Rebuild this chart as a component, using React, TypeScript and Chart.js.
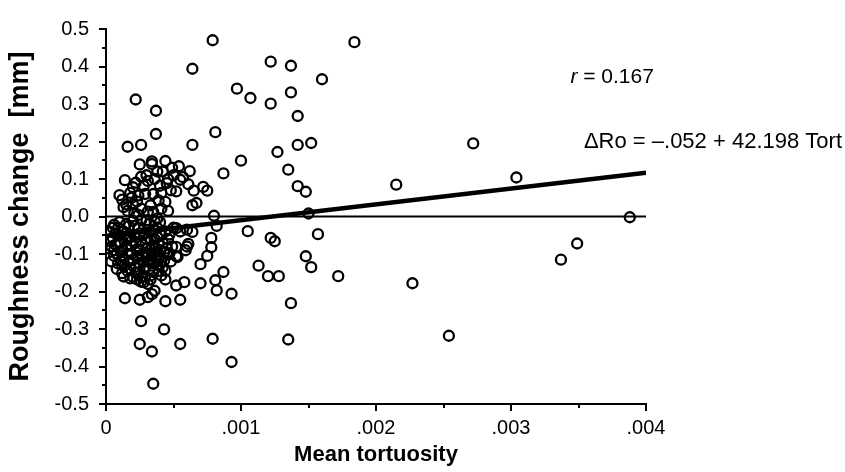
import React, { useEffect, useRef } from "react";
import { Chart, registerables } from "chart.js";

Chart.register(...registerables);

// Mean tortuosity (x) and roughness change in mm (y)
const tortuosity: number[] = [
  0.00079, 0.00184, 0.00122, 0.00137, 0.00064, 0.0016, 0.00097, 0.00107, 0.00137, 0.00122,
  0.00022, 0.00037, 0.00142, 0.00037, 0.00081, 0.00016, 0.00026, 0.00064, 0.00142, 0.00152,
  0.00272, 0.001, 0.00127, 0.00135, 0.00087, 0.00142, 0.00148, 0.00215, 0.00304,
  0.00014, 0.0001, 0.00026, 0.00025, 0.00034, 0.00034, 0.00044, 0.00042, 0.00049, 0.00054,
  0.00062, 0.00055, 0.00052, 0.00061, 0.00065, 0.00072, 0.00075, 0.00064, 0.00067, 0.0004,
  0.00045, 0.00041, 0.00035, 0.00028, 0.0002, 0.00018, 0.00024, 0.00015, 0.0002, 0.00033,
  0.00039, 0.00044, 0.00031, 0.00041, 0.00026, 0.00013, 0.0015,
  0.00012, 0.00016, 0.00019, 0.00022, 0.00023, 0.00029, 0.0003, 0.00031, 0.00036, 0.00038,
  0.00046, 0.00048, 0.0005, 0.00057, 0.00035, 0.00046, 0.00021,
  0.00024, 0.00038, 0.0008, 0.00388, 0.00082, 0.00105, 0.00122, 0.00125, 0.00157, 0.00349,
  0.00337, 0.00148, 0.00152, 0.00113, 0.0012, 0.00128, 0.00172, 0.00227, 0.00137, 0.00254,
  0.00135, 0.00079, 0.00093, 0.00035, 0.00034, 0.00025, 0.00055, 0.00043, 0.00026, 0.00014,
  0.00025, 0.00031, 0.00034, 0.00036, 0.00044, 0.00055, 0.00052, 0.00058, 0.0007, 0.00082,
  0.00081, 0.00087, 0.00093, 0.0007, 0.00075, 0.00078, 0.00078, 0.00061, 0.0006, 0.00064,
  0.0006, 0.00055, 0.00052, 0.00047, 0.00052, 0.00052, 0.00046, 0.00047, 0.00053, 0.00059,
  0.00044, 0.00041, 0.00039, 0.0004, 0.00038, 0.00035, 0.00033, 0.00033, 0.00026, 0.0002,
  0.00012, 0.00008, 0.00005, 0.00006,
  0.00003, 0.00021, 0.00007, 0.00033, 0.0001, 0.00027, 0.00012, 0.00042, 0.00014, 0.00036,
  0.00016, 0.00009, 0.00018, 0.00031, 0.0002, 0.00044, 0.00022, 0.00004, 0.00024, 0.00038,
  0.00026, 0.00013, 0.00028, 0.00045, 0.00029, 0.00017, 0.0003, 0.00019, 0.00032, 0.00023,
  0.00034, 0.00011, 0.00037, 0.00025, 0.0004, 0.00015, 0.00043, 0.00035, 0.00027, 0.00023,
  0.00016, 0.00009, 0.00006, 0.0003, 0.0002, 0.00036,
  0.00002, 0.00002, 0.00004, 0.00005, 0.00007, 0.00008, 0.0001, 0.00011, 0.00013, 0.00013,
  0.00015, 0.00015, 0.00017, 0.00018, 0.00019, 0.00021, 0.00021, 0.00022, 0.00023, 0.00024,
  0.00025, 0.00025, 0.00027, 0.00028, 0.00029, 0.0003, 0.00031, 0.00032, 0.00033, 0.00034,
  0.00035, 0.00036, 0.00037, 0.00038, 0.00039, 0.00041, 0.00042, 0.00043, 0.00046, 0.00048,
  0.00049, 0.0005, 0.00028, 0.00031, 0.00018, 0.0001, 0.00026, 0.0004,
  0.00006, 0.00012, 0.00019, 0.00024, 0.00029, 0.00034, 0.00039, 0.00044, 0.00016, 0.00033
];

const roughnessChange: number[] = [
  0.47, 0.465, 0.413, 0.402, 0.394, 0.366, 0.341, 0.316, 0.331, 0.301,
  0.312, 0.282, 0.268, 0.22, 0.225, 0.186, 0.191, 0.191, 0.191, 0.196,
  0.195, 0.149, 0.172, 0.125, 0.115, 0.081, 0.066, 0.085, 0.104,
  0.097, 0.057, 0.106, 0.139, 0.147, 0.14, 0.148, 0.12, 0.13, 0.134,
  0.121, 0.098, 0.067, 0.086, 0.069, 0.079, 0.069, 0.03, 0.036, 0.082,
  0.089, 0.063, 0.06, 0.082, 0.078, 0.063, 0.056, 0.032, 0.032, 0.03,
  0.043, 0.039, 0.013, 0.021, 0.021, 0.025, 0.008,
  0.045, 0.015, 0.05, 0.09, 0.04, 0.06, 0.11, 0.095, 0.1, 0.12,
  0.1, 0.07, 0.11, 0.105, 0.012, 0.015, 0.01,
  0.004, -0.005, 0.002, -0.002, -0.025, -0.039, -0.057, -0.066, -0.047, -0.072,
  -0.115, -0.106, -0.135, -0.131, -0.159, -0.159, -0.159, -0.178, -0.231, -0.318,
  -0.328, -0.326, -0.388, -0.446, -0.36, -0.34, -0.34, -0.301, -0.279, -0.218,
  -0.222, -0.215, -0.207, -0.198, -0.226, -0.222, -0.184, -0.175, -0.178, -0.197,
  -0.17, -0.148, -0.206, -0.127, -0.105, -0.082, -0.057, -0.073, -0.08, -0.041,
  -0.035, -0.04, -0.031, -0.048, -0.081, -0.106, -0.102, -0.098, -0.108, -0.09,
  -0.168, -0.157, -0.145, -0.127, -0.13, -0.148, -0.157, -0.168, -0.174, -0.161,
  -0.151, -0.1, -0.057, -0.022,
  -0.065, -0.05, -0.045, -0.062, -0.07, -0.105, -0.09, -0.07, -0.13, -0.08,
  -0.1, -0.03, -0.14, -0.12, -0.115, -0.04, -0.15, -0.08, -0.03, -0.055,
  -0.065, -0.04, -0.14, -0.085, -0.045, -0.025, -0.085, -0.078, -0.02, -0.088,
  -0.1, -0.118, -0.115, -0.125, -0.09, -0.06, -0.118, -0.035, -0.16, -0.168,
  -0.145, -0.125, -0.105, -0.01, -0.012, -0.012,
  -0.04, -0.085, -0.12, -0.03, -0.075, -0.14, -0.05, -0.095, -0.11, -0.16,
  -0.08, -0.02, -0.12, -0.055, -0.1, -0.135, -0.025, -0.07, -0.11, -0.15,
  -0.045, -0.09, -0.075, -0.12, -0.16, -0.06, -0.1, -0.14, -0.04, -0.08,
  -0.125, -0.06, -0.095, -0.03, -0.11, -0.05, -0.135, -0.095, -0.06, -0.12,
  -0.08, -0.03, -0.175, -0.18, -0.165, -0.015, -0.01, -0.015,
  -0.09, -0.13, -0.065, -0.105, -0.135, -0.115, -0.075, -0.145, -0.052, -0.088
];

// Regression: ΔRo = -.052 + 42.198 Tort
const fitIntercept = -0.052;
const fitSlope = 42.198;
const xRange: number[] = [0, 0.004];

const xTickValues: number[] = [0, 0.001, 0.002, 0.003, 0.004];
const xTickLabels: string[] = ["0", ".001", ".002", ".003", ".004"];
const xMinorTicks: number[] = [0.0005, 0.0015, 0.0025, 0.0035];
const yTickValues: number[] = [-0.5, -0.4, -0.3, -0.2, -0.1, 0, 0.1, 0.2, 0.3, 0.4, 0.5];
const yTickLabels: string[] = ["-0.5", "-0.4", "-0.3", "-0.2", "-0.1", "0.0", "0.1", "0.2", "0.3", "0.4", "0.5"];
const yMinorTicks: number[] = [-0.45, -0.35, -0.25, -0.15, -0.05, 0.05, 0.15, 0.25, 0.35, 0.45];

const FONT = "'Liberation Sans', Arial, Helvetica, sans-serif";

export default function App() {
  const ref = useRef<HTMLCanvasElement | null>(null);

  useEffect(() => {
    const canvas = ref.current;
    if (!canvas) return;

    const points = tortuosity.map((x, i) => ({ x, y: roughnessChange[i] }));
    const zeroLine = xRange.map((x) => ({ x, y: 0 }));
    const fitLine = xRange.map((x) => ({ x, y: fitIntercept + fitSlope * x }));

    const decorPlugin = {
      id: "decor",
      afterDraw(chart: any) {
        const ctx = chart.ctx;
        const xs = chart.scales.x;
        const ys = chart.scales.y;
        const left = chart.chartArea.left;
        const bottom = chart.chartArea.bottom;
        ctx.save();
        ctx.strokeStyle = "#000";
        ctx.lineWidth = 2;
        ctx.beginPath();
        yTickValues.forEach((v) => {
          const p = Math.round(ys.getPixelForValue(v));
          ctx.moveTo(left, p);
          ctx.lineTo(left - 7, p);
        });
        yMinorTicks.forEach((v) => {
          const p = Math.round(ys.getPixelForValue(v));
          ctx.moveTo(left, p);
          ctx.lineTo(left - 4, p);
        });
        xTickValues.forEach((v) => {
          const p = Math.round(xs.getPixelForValue(v));
          ctx.moveTo(p, bottom);
          ctx.lineTo(p, bottom + 7);
        });
        xMinorTicks.forEach((v) => {
          const p = Math.round(xs.getPixelForValue(v));
          ctx.moveTo(p, bottom);
          ctx.lineTo(p, bottom + 4);
        });
        ctx.stroke();

        // annotations
        ctx.fillStyle = "#000";
        ctx.textBaseline = "middle";
        ctx.textAlign = "left";
        const rx = xs.getPixelForValue(0.00344);
        const ry = ys.getPixelForValue(0.371);
        ctx.font = `italic 21px ${FONT}`;
        ctx.fillText("r", rx, ry);
        const rw = ctx.measureText("r").width;
        ctx.font = `21px ${FONT}`;
        ctx.fillText(" = 0.167", rx + rw, ry);

        const ex = xs.getPixelForValue(0.00354);
        const ey = ys.getPixelForValue(0.199);
        ctx.font = `22px ${FONT}`;
        ctx.fillText("\u0394Ro = \u2013.052 + 42.198 Tort", ex, ey);
        ctx.restore();
      },
    };

    const chart = new Chart(canvas, {
      type: "scatter",
      data: {
        datasets: [
          {
            type: "line",
            data: zeroLine,
            borderColor: "#000",
            borderWidth: 2,
            pointRadius: 0,
            fill: false,
          } as any,
          {
            type: "line",
            data: fitLine,
            borderColor: "#000",
            borderWidth: 4.5,
            pointRadius: 0,
            fill: false,
          } as any,
          {
            data: points,
            pointRadius: 5,
            pointBorderWidth: 2.3,
            borderColor: "#000",
            backgroundColor: "rgba(0,0,0,0)",
            pointStyle: "circle",
          } as any,
        ],
      },
      options: {
        responsive: false,
        animation: false,
        layout: { padding: { left: 0, right: 199, top: 20, bottom: 0 } },
        plugins: {
          legend: { display: false },
          tooltip: { enabled: false },
        },
        scales: {
          x: {
            type: "linear",
            min: 0,
            max: 0.004,
            afterBuildTicks: (s: any) => {
              s.ticks = xTickValues.map((v) => ({ value: v }));
            },
            afterFit: (s: any) => {
              s.height = 68;
            },
            ticks: {
              autoSkip: false,
              maxRotation: 0,
              color: "#000",
              padding: 12,
              font: { family: FONT, size: 20 },
              callback: (v: any) => {
                const i = xTickValues.findIndex((t) => Math.abs(t - Number(v)) < 1e-9);
                return i >= 0 ? xTickLabels[i] : "";
              },
            },
            grid: { display: false, drawTicks: false, drawOnChartArea: false },
            border: { display: true, color: "#000", width: 2 },
            title: {
              display: true,
              text: "Mean tortuosity",
              color: "#000",
              font: { family: FONT, size: 22, weight: "bold" },
              padding: { top: 0, bottom: 4 },
            },
          },
          y: {
            type: "linear",
            min: -0.5,
            max: 0.5,
            afterBuildTicks: (s: any) => {
              s.ticks = yTickValues.map((v) => ({ value: v }));
            },
            afterFit: (s: any) => {
              s.width = 106;
            },
            ticks: {
              autoSkip: false,
              color: "#000",
              padding: 17,
              font: { family: FONT, size: 20 },
              callback: (v: any) => {
                const i = yTickValues.findIndex((t) => Math.abs(t - Number(v)) < 1e-9);
                return i >= 0 ? yTickLabels[i] : "";
              },
            },
            grid: { display: false, drawTicks: false, drawOnChartArea: false },
            border: { display: true, color: "#000", width: 2 },
            title: {
              display: true,
              text: "Roughness change  [mm]",
              color: "#000",
              font: { family: FONT, size: 27, weight: "bold" },
              padding: { top: 4, bottom: 0 },
            },
          },
        },
      },
      plugins: [decorPlugin],
    } as any);

    return () => chart.destroy();
  }, []);

  return (
    <div style={{ position: "fixed", left: 0, top: 0, width: 845, height: 472, background: "#fff" }}>
      <canvas ref={ref} width={845} height={472} style={{ width: 845, height: 472, display: "block" }} />
    </div>
  );
}
